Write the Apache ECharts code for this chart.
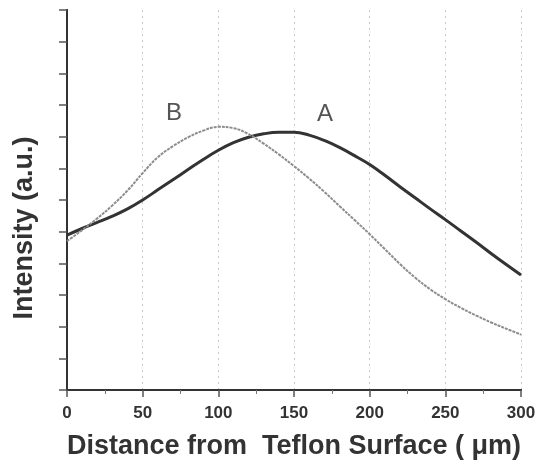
<!DOCTYPE html>
<html>
<head>
<meta charset="utf-8">
<script src="https://cdn.jsdelivr.net/npm/echarts@6/dist/echarts.min.js"></script>
<style>html,body{margin:0;padding:0;background:#fff}#c{width:550px;height:465px}</style>
</head>
<body>
<div id="c"></div>
<script>
var distance = [0,10,20,30,40,50,60,70,80,90,100,110,120,130,140,150,160,170,180,190,200,210,220,230,240,250,260,270,280,290,300];
var seriesA = [4.89,5.10,5.29,5.49,5.72,6.00,6.32,6.64,6.96,7.28,7.57,7.81,7.98,8.09,8.14,8.14,8.05,7.88,7.66,7.40,7.12,6.78,6.42,6.07,5.72,5.38,5.03,4.68,4.32,3.97,3.63];
var seriesB = [4.70,5.05,5.42,5.83,6.30,6.85,7.35,7.70,7.98,8.19,8.31,8.27,8.08,7.78,7.44,7.07,6.68,6.26,5.81,5.37,4.92,4.45,3.98,3.55,3.18,2.87,2.60,2.36,2.14,1.94,1.75];
var xTicks = [0,50,100,150,200,250,300];

function pairs(ys){ return distance.map(function(x,i){ return [x, ys[i]]; }); }

var FONT = '"Liberation Sans", Arial, sans-serif';
var chart = echarts.init(document.getElementById('c'), null, {renderer:'canvas'});
chart.setOption({
  animation: false,
  backgroundColor: '#fff',
  grid: {left: 67, right: 29, top: 10, bottom: 72},
  xAxis: [{
    type: 'value', min: 0, max: 300, interval: 50,
    axisLine: {show: true, lineStyle: {color: '#333', width: 2}},
    axisTick: {show: true, inside: false, length: 7, lineStyle: {color: '#555', width: 1.5}},
    minorTick: {show: true, splitNumber: 2, length: 4, lineStyle: {color: '#777'}},
    axisLabel: {color: '#333', fontFamily: FONT, fontWeight: 'bold', fontSize: 17, margin: 15,
      formatter: function(v){ return xTicks.indexOf(v) >= 0 ? String(v) : ''; }},
    splitLine: {show: true, lineStyle: {color: '#c8c8c8', type: [2,4], width: 1}},
    name: 'Distance from  Teflon Surface ( \u03bcm)',
    nameLocation: 'middle', nameGap: 43,
    nameTextStyle: {color: '#333', fontFamily: FONT, fontWeight: 'bold', fontSize: 27}
  }, {
    type: 'value', position: 'top', min: 0, max: 300,
    axisLine: {show: true, lineStyle: {color: '#333', width: 2}},
    axisTick: {show: false}, axisLabel: {show: false}, splitLine: {show: false}
  }],
  yAxis: [{
    type: 'value', min: 0, max: 12, interval: 1,
    axisLine: {show: true, lineStyle: {color: '#333', width: 2}},
    axisTick: {show: true, inside: false, length: 8, lineStyle: {color: '#555', width: 1.5}},
    axisLabel: {show: false},
    splitLine: {show: false},
    name: 'Intensity (a.u.)',
    nameLocation: 'middle', nameGap: 29, nameRotate: 90,
    nameTextStyle: {color: '#333', fontFamily: FONT, fontWeight: 'bold', fontSize: 27, padding: [0, 56, 0, 0]}
  }, {
    type: 'value', position: 'right', min: 0, max: 12,
    axisLine: {show: true, lineStyle: {color: '#333', width: 2}},
    axisTick: {show: false}, axisLabel: {show: false}, splitLine: {show: false}
  }],
  series: [{
    name: 'A', type: 'line', data: pairs(seriesA), smooth: 0.4, showSymbol: false,
    lineStyle: {color: '#333', width: 3}
  }, {
    name: 'B', type: 'line', data: pairs(seriesB), smooth: 0.4, showSymbol: false,
    lineStyle: {color: '#8c8c8c', width: 2, type: [3,1]}
  }],
  graphic: [
    {type: 'text', left: 166, top: 101, style: {text: 'B', font: '24px ' + FONT, fill: '#555'}},
    {type: 'text', left: 317, top: 102, style: {text: 'A', font: '24px ' + FONT, fill: '#555'}}
  ]
});
</script>
</body>
</html>
